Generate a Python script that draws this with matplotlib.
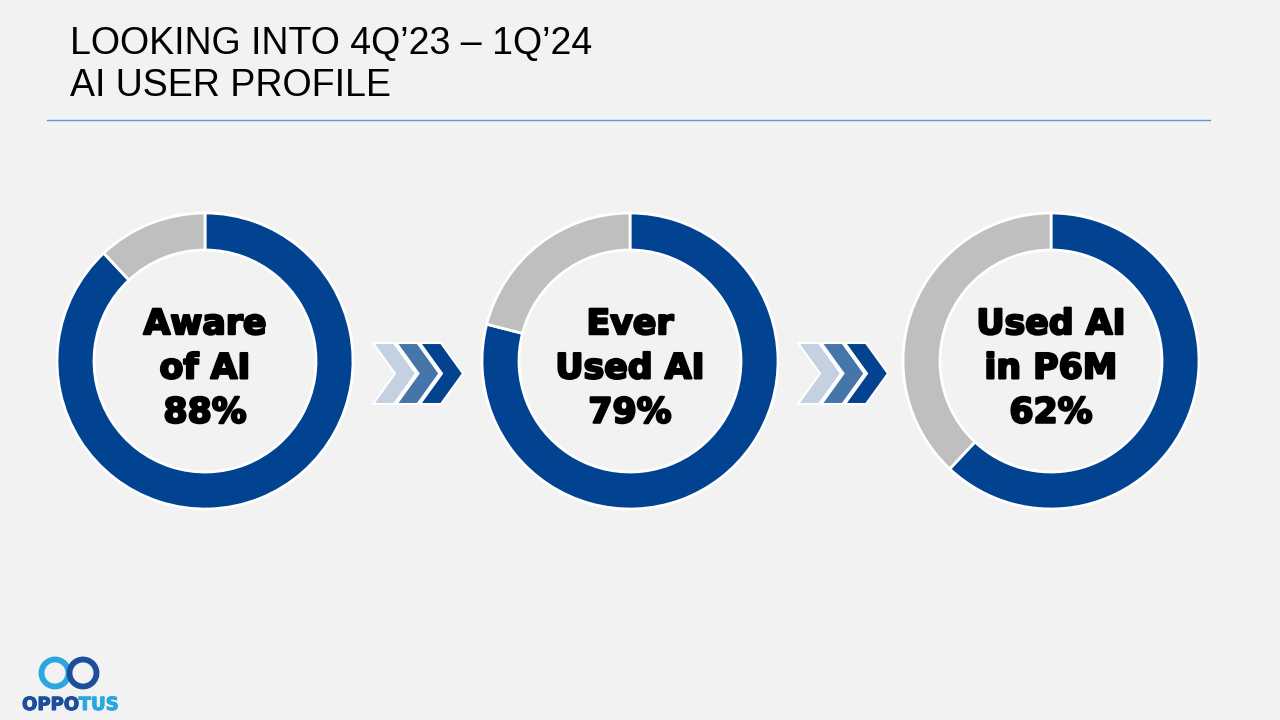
import matplotlib
matplotlib.use("Agg")
from matplotlib import pyplot
from matplotlib import patheffects
from matplotlib.patches import Polygon, Circle

# data
labels = ["Aware\nof AI", "Ever\nUsed AI", "Used AI\nin P6M"]
shares = [88, 79, 62]
centers_x = [205, 630, 1051]   # donut centres in pixels
arrows_x = [373, 798]          # left edge of each chevron group

title_lines = ["LOOKING INTO 4Q\u201923 \u2013 1Q\u201924", "AI USER PROFILE"]

BLUE = "#024391"
GREY = "#BFBFBF"
BG = "#F2F2F2"
chevron_colors = ["#C3D1E0", "#4675AA", "#02428F"]

W, H = 1280, 720


def main() -> None:
    fig = pyplot.figure(figsize=(12.8, 7.2), dpi=100, facecolor=BG)
    ax = fig.add_axes([0, 0, 1, 1])
    ax.set_xlim(0, W)
    ax.set_ylim(H, 0)
    ax.axis("off")
    ax.set_facecolor(BG)

    # title
    ax.text(70, 44, title_lines[0], fontsize=27, family="Liberation Sans",
            va="center", ha="left", color="black")
    ax.text(70, 86, title_lines[1], fontsize=27, family="Liberation Sans",
            va="center", ha="left", color="black")
    ax.plot([47, 1210], [120, 120], color="#5B9BD5", lw=1)

    # donuts
    r = 148
    cy = 361
    for cx, share, label in zip(centers_x, shares, labels):
        dax = fig.add_axes([(cx - r) / W, (H - cy - r) / H, 2 * r / W, 2 * r / H])
        dax.pie([share, 100 - share], colors=[BLUE, GREY], startangle=90,
                counterclock=False, radius=1,
                wedgeprops=dict(width=0.25, edgecolor="white", linewidth=2))
        dax.set_xlim(-1, 1)
        dax.set_ylim(-1, 1)
        dax.text(0, -0.05, f"{label}\n{share}%", ha="center", va="center",
                 fontsize=25, fontweight="bold", family="DejaVu Sans",
                 linespacing=1.38, color="black",
                 path_effects=[patheffects.withStroke(linewidth=1.6,
                                                      foreground="black")])

    # chevrons
    w, d, top, bot = 43, 22, 343, 404
    mid = (top + bot) / 2
    for x0 in arrows_x:
        for i, col in enumerate(chevron_colors):
            x = x0 + i * 23.5
            pts = [(x, top), (x + w - d, top), (x + w, mid), (x + w - d, bot),
                   (x, bot), (x + d, mid)]
            ax.add_patch(Polygon(pts, closed=True, facecolor=col,
                                 edgecolor="white", lw=1.5))

    # logo
    ax.add_patch(Circle((55, 673), 13.5, fill=False, ec="#2AA7E0", lw=4.2))
    ax.add_patch(Circle((83, 673), 13.5, fill=False, ec="#1C4E9B", lw=4.2))
    t = ax.text(22, 705, "OPPO", fontsize=13, fontweight="bold",
                family="DejaVu Sans", color="#1C4E9B", va="center", ha="left",
                path_effects=[patheffects.withStroke(linewidth=0.8,
                                                     foreground="#1C4E9B")])
    fig.canvas.draw()
    x_end = t.get_window_extent().x1
    ax.text(x_end, 705, "TUS", fontsize=13, fontweight="bold",
            family="DejaVu Sans", color="#2AA7E0", va="center", ha="left",
            path_effects=[patheffects.withStroke(linewidth=0.8,
                                                 foreground="#2AA7E0")],
            transform=matplotlib.transforms.blended_transform_factory(
                matplotlib.transforms.IdentityTransform(), ax.transData))

    fig.savefig("out.png", dpi=100, facecolor=BG)


if __name__ == "__main__":
    main()
